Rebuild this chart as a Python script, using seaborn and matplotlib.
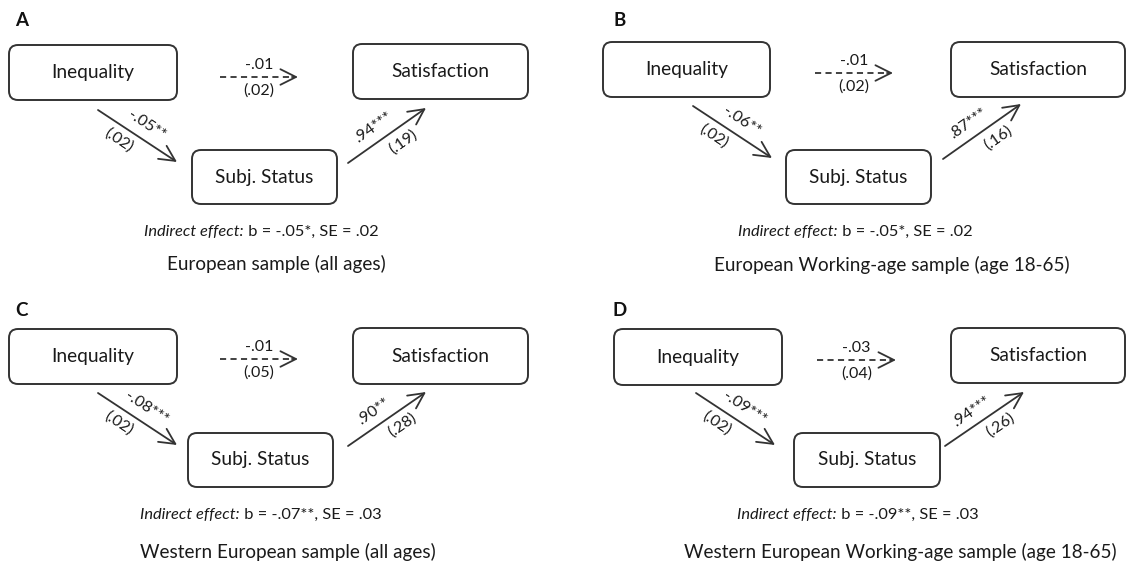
import numpy as np
import matplotlib
matplotlib.use("Agg")
import matplotlib.pyplot as plt
from matplotlib.patches import FancyBboxPatch, FancyArrowPatch
import seaborn as sns

# ------------------------------------------------------------------
# Mediation path diagrams: Inequality -> Subj. Status -> Satisfaction
# ------------------------------------------------------------------

panel_letters = ["A", "B", "C", "D"]
node_names = ["Inequality", "Subj. Status", "Satisfaction"]

# a-path (Inequality -> Subj. Status)
a_coef = ["-.05**", "-.06**", "-.08***", "-.09***"]
a_se = ["(.02)", "(.02)", "(.02)", "(.02)"]
# b-path (Subj. Status -> Satisfaction)
b_coef = [".94***", ".87***", ".90**", ".94***"]
b_se = ["(.19)", "(.16)", "(.28)", "(.26)"]
# direct path c' (Inequality -> Satisfaction)
c_coef = ["-.01", "-.01", "-.01", "-.03"]
c_se = ["(.02)", "(.02)", "(.05)", "(.04)"]
# indirect effect
ind_b = ["-.05*", "-.05*", "-.07**", "-.09**"]
ind_se = [".02", ".02", ".03", ".03"]
sample_titles = [
    "European sample (all ages)",
    "European Working-age sample (age 18-65)",
    "Western European sample (all ages)",
    "Western European Working-age sample (age 18-65)",
]

# layout in figure pixels (x right, y down)
layout = [
    dict(letter=(22, 20), ineq=(9, 45, 177, 100), sat=(353, 44, 528, 99),
         subj=(192, 150, 337, 204), dash=(220, 298, 77),
         d1=((98, 110), (177, 162)), d2=((348, 163), (426, 108)),
         indirect=(261, 232), title=(276, 264)),
    dict(letter=(620, 20), ineq=(603, 42, 770, 97), sat=(951, 42, 1125, 97),
         subj=(786, 150, 931, 204), dash=(815, 893, 73),
         d1=((693, 106), (772, 158)), d2=((943, 159), (1021, 104)),
         indirect=(855, 232), title=(892, 265)),
    dict(letter=(21, 310), ineq=(9, 329, 177, 384), sat=(353, 328, 528, 384),
         subj=(188, 433, 333, 487), dash=(220, 298, 359),
         d1=((98, 393), (177, 445)), d2=((348, 446), (426, 392)),
         indirect=(261, 515), title=(288, 552)),
    dict(letter=(620, 311), ineq=(614, 329, 782, 385), sat=(951, 328, 1125, 383),
         subj=(794, 433, 940, 487), dash=(817, 896, 360),
         d1=((696, 393), (775, 445)), d2=((945, 446), (1024, 392)),
         indirect=(858, 515), title=(900, 552)),
]

sns.set_theme(style="white")
plt.rcParams["font.family"] = ["Lato", "DejaVu Sans"]

INK = "#333333"
TXT = "#1a1a1a"
W, H = 1127, 563
fig = plt.figure(figsize=(W / 100, H / 100), dpi=100)
ax = fig.add_axes([0, 0, 1, 1])
ax.set_xlim(0, W)
ax.set_ylim(H, 0)
ax.axis("off")
renderer = fig.canvas.get_renderer()


def box(ax, rect, label):
    x0, y0, x1, y1 = rect
    p = FancyBboxPatch((x0, y0), x1 - x0, y1 - y0,
                       boxstyle="round,pad=0,rounding_size=9",
                       fc="white", ec=INK, lw=1.4)
    ax.add_patch(p)
    ax.text((x0 + x1) / 2, (y0 + y1) / 2, label, ha="center", va="center",
            fontsize=13.8, color=TXT)


def arrow(ax, p0, p1):
    a = FancyArrowPatch(p0, p1, arrowstyle="->,head_length=0.8,head_width=0.4",
                        mutation_scale=14, lw=1.3, color=INK,
                        shrinkA=0, shrinkB=0)
    ax.add_patch(a)


def path_labels(ax, p0, p1, top, bottom, t_top=0.52, t_bot=0.45, off=13):
    (x0, y0), (x1, y1) = p0, p1
    dx, dy = x1 - x0, y1 - y0
    L = np.hypot(dx, dy)
    ang = -np.degrees(np.arctan2(dy, dx))
    # normal pointing "up" on screen
    nx, ny = dy / L, -dx / L
    if ny > 0:
        nx, ny = -nx, -ny
    for txt, t, s in [(top, t_top, 1), (bottom, t_bot, -1)]:
        mx, my = x0 + dx * t, y0 + dy * t
        ax.text(mx + s * off * nx, my + s * off * ny, txt, rotation=ang,
                rotation_mode="anchor", ha="center", va="center",
                fontsize=11.5, color=TXT)


def indirect_line(ax, xc, y, b, se):
    # italic lead-in followed by upright values, centred as one line
    t1 = ax.text(0, y, "Indirect effect:", style="italic", ha="left",
                 va="center", fontsize=11.8, color=TXT)
    t2 = ax.text(0, y, f" b = {b}, SE = {se}", ha="left", va="center",
                 fontsize=11.8, color=TXT)
    w1 = t1.get_window_extent(renderer).width
    w2 = t2.get_window_extent(renderer).width
    x0 = xc - (w1 + w2) / 2
    t1.set_x(x0)
    t2.set_x(x0 + w1)


for i, lay in enumerate(layout):
    ax.text(*lay["letter"], panel_letters[i], ha="center", va="center",
            fontsize=13.5, fontweight="bold", color="#111111")
    box(ax, lay["ineq"], node_names[0])
    box(ax, lay["subj"], node_names[1])
    box(ax, lay["sat"], node_names[2])

    # direct path (dashed)
    xa, xb, yc = lay["dash"]
    ax.plot([xa, xb - 3], [yc, yc], color=INK, lw=1.3, ls=(0, (3.4, 2.4)))
    arrow(ax, (xb - 6, yc), (xb, yc))
    ax.text((xa + xb) / 2, yc - 12, c_coef[i], ha="center", va="center",
            fontsize=11.5, color=TXT)
    ax.text((xa + xb) / 2, yc + 14, c_se[i], ha="center", va="center",
            fontsize=11.5, color=TXT)

    # a and b paths
    arrow(ax, *lay["d1"])
    path_labels(ax, *lay["d1"], a_coef[i], a_se[i], t_top=0.52, t_bot=0.36, off=14)
    arrow(ax, *lay["d2"])
    path_labels(ax, *lay["d2"], b_coef[i], b_se[i], t_top=0.43, t_bot=0.6, off=14)

    indirect_line(ax, *lay["indirect"], ind_b[i], ind_se[i])

    ax.text(*lay["title"], sample_titles[i], ha="center", va="center",
            fontsize=13.6, color=TXT)

fig.savefig("out.png", dpi=100, facecolor="white")
